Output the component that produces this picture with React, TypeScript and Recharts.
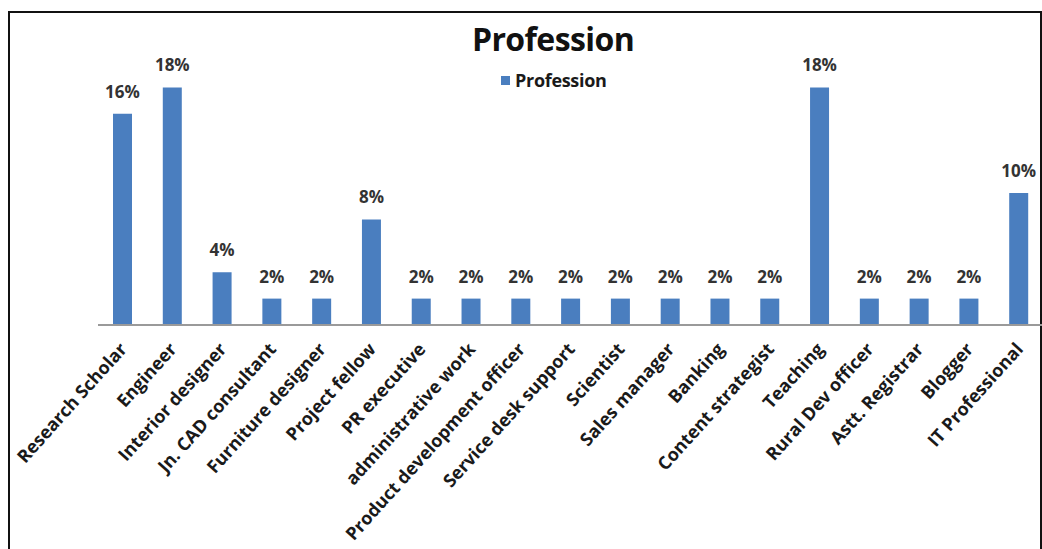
import { BarChart, Bar, XAxis, YAxis, LabelList } from 'recharts';

const professions = [
  'Research Scholar',
  'Engineer',
  'Interior designer',
  'Jn. CAD consultant',
  'Furniture designer',
  'Project fellow',
  'PR executive',
  'administrative work',
  'Product development officer',
  'Service desk support',
  'Scientist',
  'Sales manager',
  'Banking',
  'Content strategist',
  'Teaching',
  'Rural Dev officer',
  'Astt. Registrar',
  'Blogger',
  'IT Professional',
];

const shares = [16, 18, 4, 2, 2, 8, 2, 2, 2, 2, 2, 2, 2, 2, 18, 2, 2, 2, 10];

const BAR_BLUE = '#4a7ebf';
const FONT = '"Open Sans", "Liberation Sans", sans-serif';

const data = professions.map((name, i) => ({ name, value: shares[i] }));

interface TickProps {
  x?: number;
  y?: number;
  payload?: { value: string };
}

const AngledTick = ({ x = 0, y = 0, payload }: TickProps) => (
  <text
    x={x + 5}
    y={y + 17}
    transform={`rotate(-48, ${x + 5}, ${y + 17})`}
    textAnchor="end"
    fontFamily={FONT}
    fontWeight={700}
    fontSize={18}
    letterSpacing={0}
    fill="#1a1a1a"
  >
    {payload?.value}
  </text>
);

export default function App() {
  return (
    <div style={{ position: 'absolute', left: 0, top: 0, width: 1042, height: 549, overflow: 'hidden', background: '#fff' }}>
      <div
        style={{
          position: 'absolute',
          left: 8,
          top: 11,
          width: 1030,
          height: 600,
          border: '2px solid #111',
        }}
      />
      <div
        style={{
          position: 'absolute',
          left: 0,
          top: 17,
          width: 1106,
          textAlign: 'center',
          fontFamily: FONT,
          fontWeight: 700,
          fontSize: 32,
          letterSpacing: -0.6,
          color: '#111',
        }}
      >
        Profession
      </div>
      {/* legend */}
      <div
        style={{
          position: 'absolute',
          left: 501,
          top: 68,
          display: 'flex',
          alignItems: 'center',
          fontFamily: FONT,
        }}
      >
        <span style={{ width: 9, height: 9, background: BAR_BLUE, display: 'inline-block', marginRight: 5 }} />
        <span style={{ fontSize: 18, fontWeight: 700, color: '#1a1a1a', letterSpacing: -0.3 }}>Profession</span>
      </div>
      <div style={{ position: 'absolute', left: 0, top: 0 }}>
        <BarChart
          width={1050}
          height={549}
          data={data}
          margin={{ top: 61, right: 6, bottom: 0, left: 98 }}
          barCategoryGap={0}
        >
          <XAxis
            dataKey="name"
            interval={0}
            tickLine={false}
            axisLine={{ stroke: '#9a9a9a', strokeWidth: 2 }}
            height={224}
            tick={<AngledTick />}
          />
          <YAxis hide domain={[0, 20]} />
          <Bar dataKey="value" name="Profession" fill={BAR_BLUE} barSize={19} isAnimationActive={false}>
            <LabelList
              dataKey="value"
              position="top"
              offset={16}
              formatter={(v: number) => `${v}%`}
              style={{ fontFamily: FONT, fontWeight: 700, fontSize: 17, fill: '#333' }}
            />
          </Bar>
        </BarChart>
      </div>
    </div>
  );
}
